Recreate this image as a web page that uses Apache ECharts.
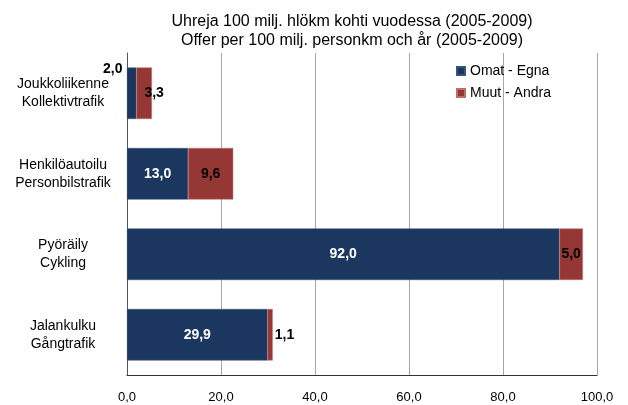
<!DOCTYPE html>
<html>
<head>
<meta charset="utf-8">
<script src="https://cdn.jsdelivr.net/npm/echarts@6/dist/echarts.min.js"></script>
<style>
  html, body { margin: 0; padding: 0; background: #fff; }
  #chart { width: 628px; height: 405px; }
</style>
</head>
<body>
<div id="chart"></div>
<script>
// 数据
const categories = [
  'Joukkoliikenne\nKollektivtrafik',
  'Henkilöautoilu\nPersonbilstrafik',
  'Pyöräily\nCykling',
  'Jalankulku\nGångtrafik'
]
const seriesNames = ['Omat - Egna', 'Muut - Andra']
const omatValues = [2.0, 13.0, 92.0, 29.9]
const muutValues = [3.3, 9.6, 5.0, 1.1]
const xTicks = [0, 20, 40, 60, 80, 100]

const fmt = v => v.toFixed(1).replace('.', ',')
const font = 'Liberation Sans, Arial, sans-serif'

const chart = echarts.init(document.getElementById('chart'))

// 第一个系列：小值的标签放在柱子外面
const omatData = omatValues.map((v, i) => {
  if (i === 0) {
    return { value: v, label: { position: [-24, -5], color: '#000' } }
  }
  return v
})
// 第二个系列
const muutData = muutValues.map((v, i) => {
  if (i === 0) return { value: v, label: { offset: [10, 0] } }
  if (i === 3) return { value: v, label: { position: 'right', distance: 2 } }
  return v
})

const option = {
  animation: false,
  title: {
    text: 'Uhreja 100 milj. hlökm kohti vuodessa (2005-2009)\nOffer per 100 milj. personkm och år (2005-2009)',
    left: 347,
    top: 7,
    textAlign: 'center',
    textStyle: {
      fontFamily: font,
      fontSize: 16,
      lineHeight: 19,
      fontWeight: 'normal',
      color: '#000'
    }
  },
  legend: {
    data: seriesNames,
    orient: 'vertical',
    left: 456,
    top: 64,
    padding: 0,
    itemWidth: 8,
    itemHeight: 8,
    itemGap: 8,
    icon: 'rect',
    textStyle: {
      fontFamily: font,
      fontSize: 14,
      lineHeight: 12,
      color: '#000'
    }
  },
  grid: {
    left: 127,
    right: 31,
    top: 53,
    bottom: 30,
    containLabel: false
  },
  xAxis: {
    type: 'value',
    min: 0,
    max: 100,
    interval: 20,
    axisLine: { show: true, lineStyle: { color: '#333', width: 1 } },
    axisTick: { show: false },
    splitLine: { show: true, lineStyle: { color: '#a6a6a6', width: 1 } },
    axisLabel: {
      formatter: v => (xTicks.includes(v) ? fmt(v) : ''),
      fontFamily: font,
      fontSize: 13,
      color: '#000',
      margin: 16
    }
  },
  yAxis: {
    type: 'category',
    data: categories,
    inverse: true,
    axisLine: { show: true, lineStyle: { color: '#555', width: 1 } },
    axisTick: { show: false },
    splitLine: { show: false },
    axisLabel: {
      fontFamily: font,
      fontSize: 14,
      lineHeight: 18,
      color: '#000',
      align: 'center',
      margin: 64
    }
  },
  series: [
    {
      name: seriesNames[0],
      type: 'bar',
      stack: 'total',
      data: omatData,
      barCategoryGap: '36%',
      itemStyle: { color: '#1b375f', borderColor: '#3a5378', borderWidth: 0.5 },
      label: {
        show: true,
        position: 'inside',
        formatter: p => fmt(p.value),
        fontFamily: font,
        fontSize: 14,
        fontWeight: 'bold',
        color: '#fff'
      }
    },
    {
      name: seriesNames[1],
      type: 'bar',
      stack: 'total',
      data: muutData,
      barCategoryGap: '36%',
      itemStyle: { color: '#953735', borderColor: '#c06c6a', borderWidth: 0.5 },
      label: {
        show: true,
        position: 'inside',
        formatter: p => fmt(p.value),
        fontFamily: font,
        fontSize: 14,
        fontWeight: 'bold',
        color: '#000'
      }
    }
  ]
}
chart.setOption(option)
</script>
</body>
</html>
